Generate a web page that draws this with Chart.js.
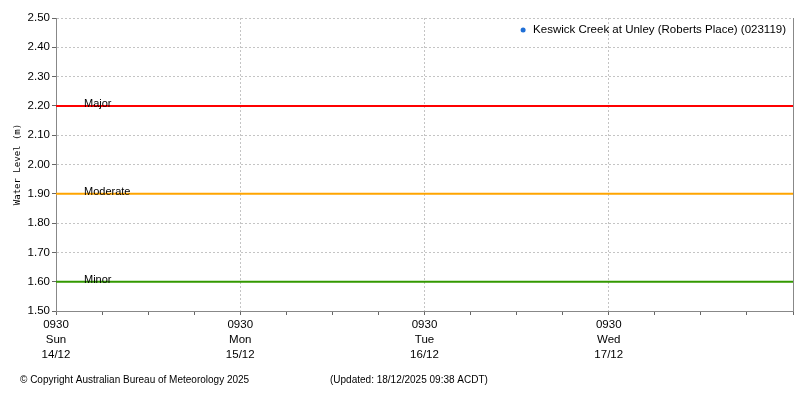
<!DOCTYPE html>
<html>
<head>
<meta charset="utf-8">
<script src="https://cdn.jsdelivr.net/npm/chart.js@4"></script>
<style>
  html, body { margin: 0; padding: 0; background: #fff; }
  #wrap { width: 800px; height: 400px; }
</style>
</head>
<body>
<div id="wrap"><canvas id="levelChart" width="800" height="400"></canvas></div>
<script>
// hours since 0930 Sun 14/12
const dayTicks = [0, 24, 48, 72];
const tickTimes = ['0930', '0930', '0930', '0930'];
const tickDays = ['Sun', 'Mon', 'Tue', 'Wed'];
const tickDates = ['14/12', '15/12', '16/12', '17/12'];

const seriesName = 'Keswick Creek at Unley (Roberts Place) (023119)';
const seriesColor = '#1f6fd6';
const seriesValues = []; // no readings shown in range

const floodNames = ['Major', 'Moderate', 'Minor'];
const floodLevels = [2.20, 1.90, 1.60];
const floodColors = ['#ff0000', '#ffa500', '#339900'];

const footLeft = '\u00a9 Copyright Australian Bureau of Meteorology 2025';
const footRight = '(Updated: 18/12/2025 09:38 ACDT)';

const font = 'Liberation Sans, Arial, sans-serif';

const datasets = [{
    label: seriesName,
    data: seriesValues,
    borderColor: seriesColor,
    backgroundColor: seriesColor,
    pointRadius: 2
}];
floodLevels.forEach((lvl, i) => {
    datasets.push({
        label: floodNames[i],
        data: [{ x: 0, y: lvl }, { x: 96, y: lvl }],
        borderColor: floodColors[i],
        borderWidth: 2,
        pointRadius: 0
    });
});

// legend, labels above flood lines, right border and footer texts
const extras = {
    id: 'extras',
    afterDatasetsDraw(chart) {
        const { ctx, chartArea, scales } = chart;
        ctx.save();
        ctx.fillStyle = '#000';
        ctx.font = '11px ' + font;
        ctx.textAlign = 'left';
        ctx.textBaseline = 'alphabetic';
        floodLevels.forEach((lvl, i) => {
            const y = scales.y.getPixelForValue(lvl);
            ctx.fillText(floodNames[i], chartArea.left + 28, y + 1);
        });

        ctx.strokeStyle = '#888';
        ctx.lineWidth = 1;
        ctx.beginPath();
        ctx.moveTo(chartArea.right + 0.5, chartArea.top);
        ctx.lineTo(chartArea.right + 0.5, chartArea.bottom);
        ctx.stroke();

        // legend top-right inside plot
        ctx.font = '11.5px ' + font;
        ctx.textAlign = 'right';
        ctx.textBaseline = 'middle';
        const tx = chartArea.right - 7;
        const ty = chartArea.top + 12;
        ctx.fillText(seriesName, tx, ty);
        const w = ctx.measureText(seriesName).width;
        ctx.fillStyle = seriesColor;
        ctx.beginPath();
        ctx.arc(tx - w - 10, ty, 2.5, 0, Math.PI * 2);
        ctx.fill();

        ctx.fillStyle = '#000';
        ctx.textAlign = 'left';
        ctx.font = '10px ' + font;
        ctx.fillText(footLeft, 20, 380);
        ctx.fillText(footRight, 330, 380);
        ctx.restore();
    }
};

new Chart(document.getElementById('levelChart'), {
    type: 'line',
    data: { datasets: datasets },
    options: {
        responsive: false,
        animation: false,
        layout: { padding: { top: 18, right: 7, left: 0, bottom: 0 } },
        plugins: {
            legend: { display: false },
            tooltip: { enabled: false }
        },
        scales: {
            x: {
                type: 'linear',
                min: 0,
                max: 96,
                ticks: {
                    stepSize: 6,
                    autoSkip: false,
                    maxRotation: 0,
                    padding: 2,
                    color: '#000',
                    font: { family: font, size: 11.5, lineHeight: 1.3 },
                    callback: v => {
                        const i = dayTicks.indexOf(v);
                        return i < 0 ? '' : [tickTimes[i], tickDays[i], tickDates[i]];
                    }
                },
                grid: {
                    color: c => (c.tick && c.tick.value % 24 === 0 && c.tick.value > 0 && c.tick.value < 96) ? '#c4c4c4' : 'transparent',
                    tickColor: '#666',
                    tickLength: 4
                },
                border: { color: '#888', dash: [2, 2] },
                afterFit: s => { s.height = 89; }
            },
            y: {
                min: 1.5,
                max: 2.5,
                ticks: {
                    stepSize: 0.1,
                    padding: 2,
                    color: '#000',
                    font: { family: font, size: 11.5 },
                    callback: v => v.toFixed(2)
                },
                grid: {
                    color: c => (c.tick && c.tick.value > 1.55) ? '#c4c4c4' : 'transparent',
                    tickColor: '#666',
                    tickLength: 4
                },
                border: { color: '#888', dash: [2, 2] },
                title: {
                    display: true,
                    text: 'Water Level (m)',
                    color: '#000',
                    font: { family: 'DejaVu Sans Mono, monospace', size: 9 },
                    padding: { top: 12, bottom: 0 }
                },
                afterFit: s => { s.width = 56; }
            }
        }
    },
    plugins: [extras]
});
</script>
</body>
</html>
